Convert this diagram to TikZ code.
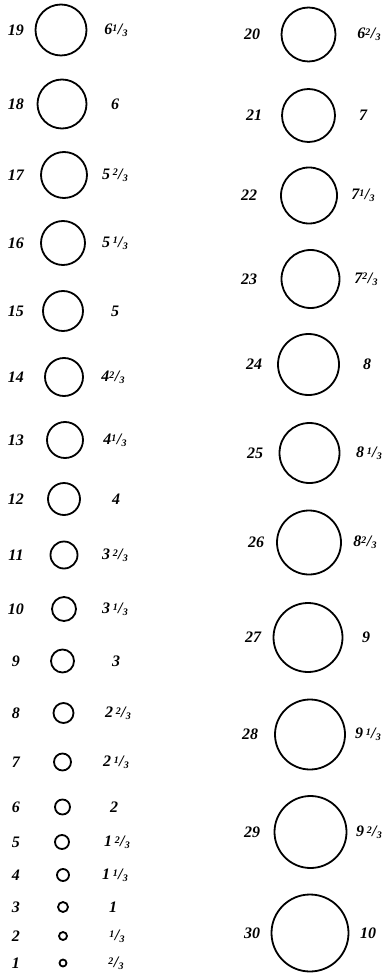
\documentclass[tikz,border=0pt]{standalone}
\usepackage{fontspec}
\setmainfont{Liberation Serif}
\newcommand{\frc}[2]{\raisebox{0.45ex}{\fontsize{10}{10}\selectfont #1}\kern0.02em/\kern0.02em\raisebox{-0.25ex}{\fontsize{10}{10}\selectfont #2}}
\begin{document}
\begin{tikzpicture}[x=1pt,y=-1pt,
  shot/.style={draw,line width=1.8pt},
  numlab/.style={font=\fontsize{16}{16}\selectfont\bfseries\itshape,inner sep=0pt},
  vallab/.style={font=\fontsize{16}{16}\selectfont\bfseries\itshape,inner sep=0pt}]
\useasboundingbox (0,0) rectangle (387,973);
% left column: number, y, radius, circle x, label x, label text
\foreach \n/\y/\r/\cx/\lx/\t in {
 19/30/25.5/61/116/{6\frc{1}{3}},
 18/104/24.5/62/115/{6},
 17/175/23/64/115/{5\,\frc{2}{3}},
 16/243/22/63/115/{5\,\frc{1}{3}},
 15/311/20/63/115/{5},
 14/377/19/64/113/{4\frc{2}{3}},
 13/440/18/65/115/{4\frc{1}{3}},
 12/499/16/64/116/{4},
 11/555/13.5/64/115/{3\,\frc{2}{3}},
 10/609/12/64/115/{3\,\frc{1}{3}},
 9/661/11.5/62.5/116/{3},
 8/713/10/63.5/118/{2\,\frc{2}{3}},
 7/762/8.5/62.5/116/{2\,\frc{1}{3}},
 6/807/7.5/62.5/114/{2},
 5/842/7/62/117/{1\,\frc{2}{3}},
 4/875/6/63/115/{1\,\frc{1}{3}},
 3/907/5/63/113/{1},
 2/936/4/63/117/{\frc{1}{3}},
 1/963/3.5/63/116/{\frc{2}{3}}}{
  \node[shot,circle,minimum size=2*\r,inner sep=0pt] (c\n) at (\cx,\y) {};
  \node[numlab] (n\n) at (16,\y) {\n};
  \node[vallab] (v\n) at (\lx,\y) {\t};
}
% right column
\foreach \n/\y/\r/\cx/\nx/\lx/\t in {
 20/34.5/27/308.5/252/369/{6\frc{2}{3}},
 21/115.5/26.5/308.5/254/363/{7},
 22/195.5/28/309/249/363/{7\frc{1}{3}},
 23/279/29/310.5/249/366/{7\frc{2}{3}},
 24/364.5/30.5/308.5/254/367/{8},
 25/453/30/309.5/255/369/{8\,\frc{1}{3}},
 26/542.5/32/309/256/365/{8\frc{2}{3}},
 27/637.5/34.5/308/253/366/{9},
 28/734.5/35/310/250/368/{9\,\frc{1}{3}},
 29/832/36/310.5/252/369/{9\,\frc{2}{3}},
 30/933/38.5/310/252/368/{10}}{
  \node[shot,circle,minimum size=2*\r,inner sep=0pt] (c\n) at (\cx,\y) {};
  \node[numlab] (n\n) at (\nx,\y) {\n};
  \node[vallab] (v\n) at (\lx,\y) {\t};
}
\end{tikzpicture}
\end{document}
